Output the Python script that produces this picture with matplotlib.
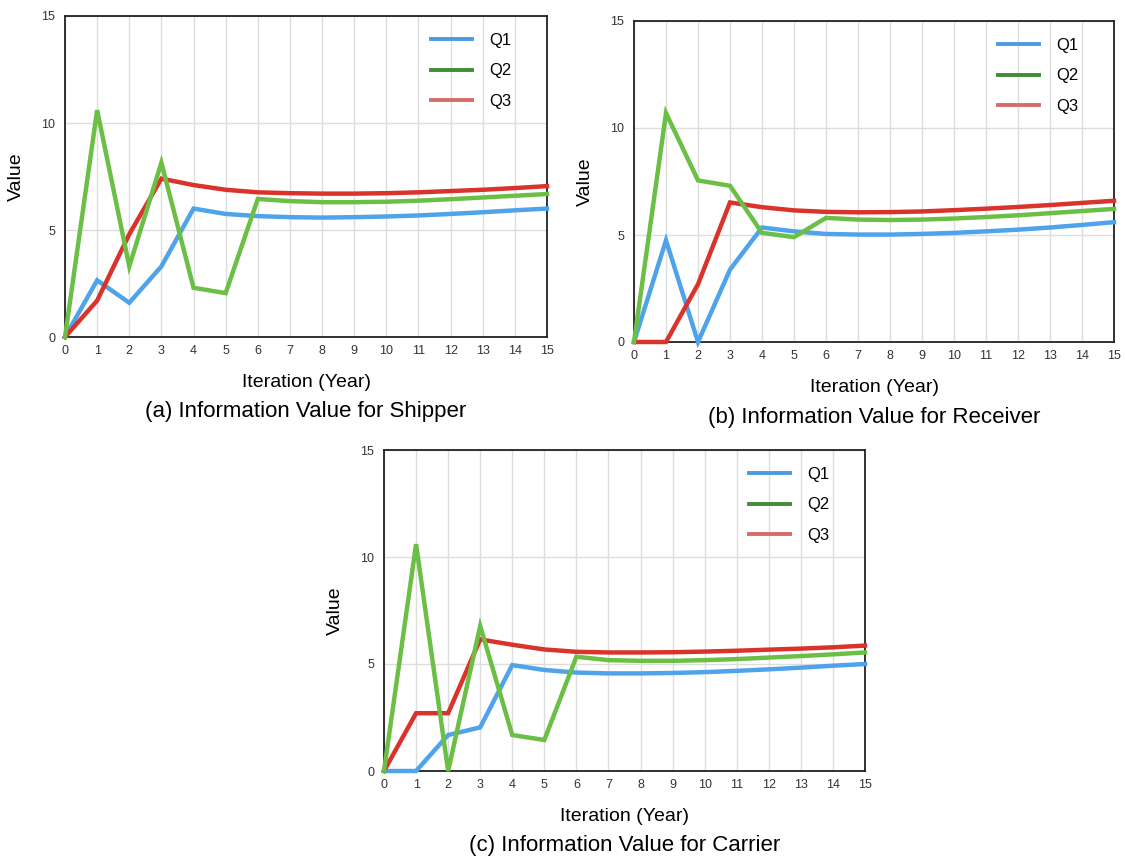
import matplotlib
matplotlib.use("Agg")
import matplotlib.pyplot as plt
from matplotlib.lines import Line2D

plt.rcParams['font.family'] = ['Liberation Sans', 'DejaVu Sans']

years = list(range(16))
series_names = ["Q1", "Q2", "Q3"]

shipper_q1 = [0, 2.65, 1.6, 3.3, 6.0, 5.75, 5.65, 5.6, 5.58, 5.6, 5.63, 5.68, 5.75, 5.83, 5.92, 6.0]
shipper_q2 = [0, 10.6, 3.3, 8.15, 2.3, 2.05, 6.45, 6.35, 6.3, 6.3, 6.32, 6.37, 6.44, 6.52, 6.6, 6.68]
shipper_q3 = [0, 1.7, 4.8, 7.4, 7.1, 6.88, 6.76, 6.72, 6.7, 6.7, 6.72, 6.76, 6.82, 6.88, 6.96, 7.05]

receiver_q1 = [0, 4.75, 0, 3.38, 5.35, 5.17, 5.05, 5.02, 5.02, 5.05, 5.1, 5.17, 5.25, 5.35, 5.47, 5.6]
receiver_q2 = [0, 10.7, 7.55, 7.3, 5.1, 4.9, 5.8, 5.72, 5.7, 5.72, 5.77, 5.84, 5.92, 6.02, 6.12, 6.22]
receiver_q3 = [0, 0, 2.7, 6.52, 6.3, 6.15, 6.08, 6.06, 6.07, 6.1, 6.16, 6.23, 6.31, 6.4, 6.5, 6.6]

carrier_q1 = [0, 0, 1.68, 2.04, 4.95, 4.72, 4.6, 4.56, 4.56, 4.58, 4.62, 4.68, 4.75, 4.83, 4.92, 5.0]
carrier_q2 = [0, 10.6, 0, 6.78, 1.68, 1.45, 5.34, 5.18, 5.15, 5.15, 5.18, 5.23, 5.3, 5.37, 5.45, 5.54]
carrier_q3 = [0, 2.7, 2.7, 6.15, 5.9, 5.68, 5.57, 5.54, 5.54, 5.55, 5.58, 5.62, 5.67, 5.72, 5.78, 5.86]

captions = ["(a) Information Value for Shipper",
            "(b) Information Value for Receiver",
            "(c) Information Value for Carrier"]

line_colors = {"Q1": "#4fa3ea", "Q2": "#6cbf45", "Q3": "#d9332b"}
legend_colors = {"Q1": "#4a9be0", "Q2": "#3f8c35", "Q3": "#d96a6a"}

W, H = 1125, 858
fig = plt.figure(figsize=(W / 100, H / 100), dpi=100)

# axes boxes in pixels: left, top, right, bottom
boxes = [(65, 16, 547, 337), (634, 21, 1114, 342), (384, 450, 865, 771)]
data = [
    (shipper_q1, shipper_q2, shipper_q3),
    (receiver_q1, receiver_q2, receiver_q3),
    (carrier_q1, carrier_q2, carrier_q3),
]

for (l, t, r, b), (q1, q2, q3), cap in zip(boxes, data, captions):
    ax = fig.add_axes([l / W, 1 - b / H, (r - l) / W, (b - t) / H])
    ax.set_xlim(0, 15)
    ax.set_ylim(0, 15)
    ax.set_xticks(years)
    ax.set_yticks([0, 5, 10, 15])
    ax.grid(True, color="#dddddd", linewidth=1.0)
    ax.set_axisbelow(True)
    for sp in ax.spines.values():
        sp.set_color("#222222")
        sp.set_linewidth(1.3)
    ax.tick_params(axis="x", length=0, labelsize=9, colors="#333333", pad=6)
    ax.tick_params(axis="y", length=0, labelsize=9, colors="#333333", pad=7)
    ax.plot(years, q1, color=line_colors["Q1"], lw=3.2, solid_joinstyle="miter", clip_on=False, zorder=3)
    ax.plot(years, q3, color=line_colors["Q3"], lw=3.2, solid_joinstyle="miter", clip_on=False, zorder=3)
    ax.plot(years, q2, color=line_colors["Q2"], lw=3.2, solid_joinstyle="miter", clip_on=False, zorder=3)
    ax.set_ylabel("Value", fontsize=14, labelpad=12)
    ax.set_xlabel("Iteration (Year)", fontsize=14, labelpad=12)
    handles = [Line2D([0], [0], color=legend_colors[n], lw=2.8) for n in series_names]
    ax.legend(handles, series_names, loc="upper right", frameon=False, fontsize=12,
              handlelength=2.5, handletextpad=1.0, labelspacing=0.95,
              bbox_to_anchor=(0.957, 0.995))
    cx = (l + r) / 2 / W
    fig.text(cx, 1 - (b + 75) / H, cap, ha="center", va="center", fontsize=16)

fig.savefig("out.png", dpi=100)
